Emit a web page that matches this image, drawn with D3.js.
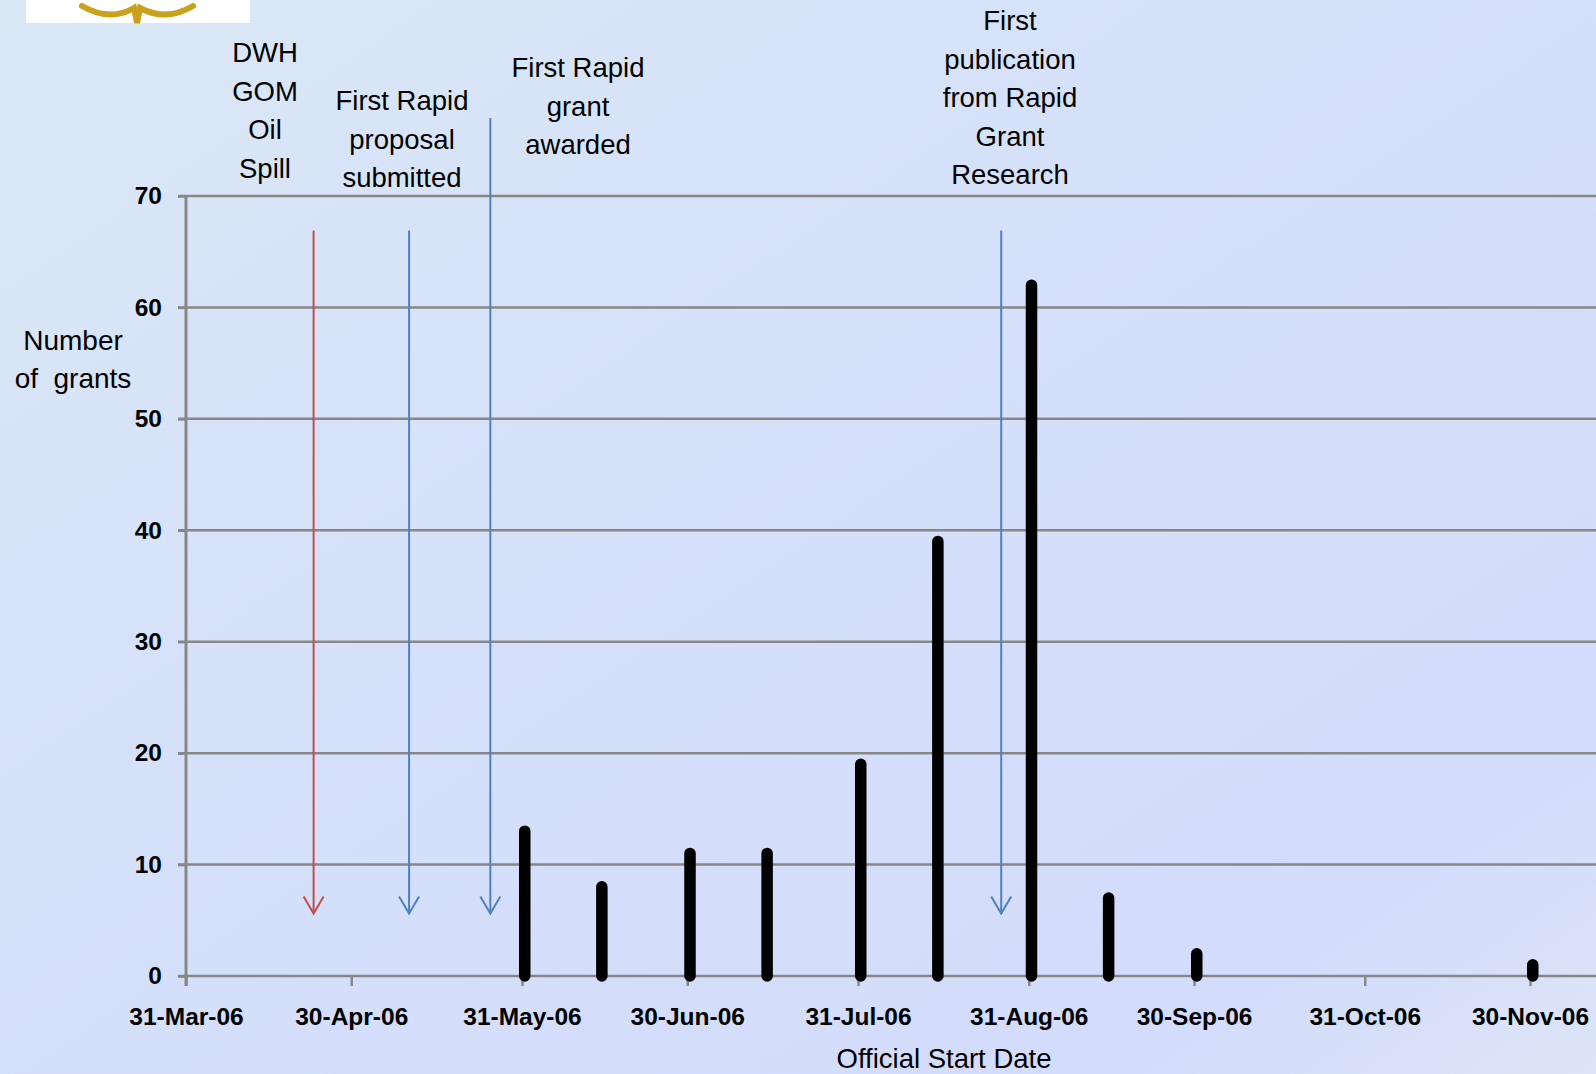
<!DOCTYPE html>
<html>
<head>
<meta charset="utf-8">
<script src="https://cdn.jsdelivr.net/npm/d3@7"></script>
<style>
  body { margin: 0; padding: 0; overflow: hidden; }
  text { font-family: "Liberation Sans", Arial, sans-serif; }
</style>
</head>
<body>
<div id="chart"></div>
<script>
// grants per official start date
var startDates = ["2006-05-31T12:00", "2006-06-14T12:00", "2006-06-30T12:00", "2006-07-14T12:00",
  "2006-07-31T12:00", "2006-08-14T12:00", "2006-08-31T12:00", "2006-09-14T12:00",
  "2006-09-30T12:00", "2006-11-30T12:00"];
var grantCounts = [13, 8, 11, 11, 19, 39, 62, 7, 2, 1];

var xTickDates = ["2006-03-31", "2006-04-30", "2006-05-31", "2006-06-30", "2006-07-31",
  "2006-08-31", "2006-09-30", "2006-10-31", "2006-11-30"];
var yTicks = [0, 10, 20, 30, 40, 50, 60, 70];

// event arrows
var arrowDates = ["2006-04-23T04:00", "2006-05-10T12:00", "2006-05-25T06:00", "2006-08-26T00:00"];
var arrowTops = [66.9, 66.9, 77, 66.9];
var arrowTip = 5.6;
var arrowColors = ["#C0504D", "#4F81BD", "#4F81BD", "#4F81BD"];

var noteLines = [
  ["DWH", "GOM", "Oil", "Spill"],
  ["First Rapid", "proposal", "submitted"],
  ["First Rapid", "grant", "awarded"],
  ["First", "publication", "from Rapid", "Grant", "Research"]
];

var svgWidth = 1596;
var svgHeight = 1074;
var parse = d3.isoParse;

var svg = d3.select("#chart")
  .append("svg")
  .attr("width", svgWidth)
  .attr("height", svgHeight);

var defs = svg.append("defs");
var grad = defs.append("linearGradient")
  .attr("id", "bg")
  .attr("x1", "0%").attr("y1", "0%")
  .attr("x2", "100%").attr("y2", "100%");
grad.append("stop").attr("offset", "0%").attr("stop-color", "#D9E8F5");
grad.append("stop").attr("offset", "45%").attr("stop-color", "#D5E0FA");
grad.append("stop").attr("offset", "85%").attr("stop-color", "#D3DCFB");
grad.append("stop").attr("offset", "100%").attr("stop-color", "#DCE5F6");

svg.append("rect")
  .attr("width", svgWidth)
  .attr("height", svgHeight)
  .attr("fill", "url(#bg)");

// piece of logo at the top left
svg.append("rect")
  .attr("x", 26).attr("y", 0)
  .attr("width", 224).attr("height", 23)
  .attr("fill", "#ffffff");
svg.append("path")
  .attr("d", "M82,6 Q110,22 134,8 L137,23 L140,8 Q166,22 193,6")
  .attr("fill", "none")
  .attr("stroke", "#C9A11C")
  .attr("stroke-width", 6)
  .attr("stroke-linecap", "round");

var x = d3.scaleTime()
  .domain([parse("2006-03-31"), parse("2006-11-30")])
  .range([186, 1530]);

var y = d3.scaleLinear()
  .domain([0, 70])
  .range([976, 196]);

var gridColor = "#878787";

// horizontal gridlines
svg.append("g")
  .selectAll("line")
  .data(yTicks.filter(d => d > 0))
  .enter()
  .append("line")
  .attr("x1", 178)
  .attr("x2", svgWidth)
  .attr("y1", d => y(d))
  .attr("y2", d => y(d))
  .attr("stroke", gridColor)
  .attr("stroke-width", 2.5);

// y axis
var leftAxis = d3.axisLeft(y)
  .tickValues(yTicks)
  .tickSize(8)
  .tickPadding(16)
  .tickFormat(d3.format("d"));

var yAxis = svg.append("g")
  .attr("transform", "translate(186,0)")
  .call(leftAxis);
yAxis.select(".domain").remove();
yAxis.selectAll("line").attr("stroke", gridColor).attr("stroke-width", 2.5);
yAxis.selectAll("text")
  .attr("font-size", 24.5)
  .attr("font-weight", "bold")
  .attr("fill", "#000")
  .style("font-family", "'Liberation Sans', Arial, sans-serif");

svg.append("line")
  .attr("x1", 186).attr("x2", 186)
  .attr("y1", y(70)).attr("y2", y(0) + 10)
  .attr("stroke", gridColor)
  .attr("stroke-width", 3);

// x axis
var bottomAxis = d3.axisBottom(x)
  .tickValues(xTickDates.map(parse))
  .tickSize(10)
  .tickPadding(22)
  .tickFormat(d3.timeFormat("%d-%b-%y"));

var xAxis = svg.append("g")
  .attr("transform", `translate(0, ${y(0)})`)
  .call(bottomAxis);
xAxis.select(".domain").remove();
xAxis.selectAll("line").attr("stroke", gridColor).attr("stroke-width", 2.5);
xAxis.selectAll("text")
  .attr("font-size", 24.5)
  .attr("font-weight", "bold")
  .attr("fill", "#000")
  .style("font-family", "'Liberation Sans', Arial, sans-serif");

svg.append("line")
  .attr("x1", 178).attr("x2", svgWidth)
  .attr("y1", y(0)).attr("y2", y(0))
  .attr("stroke", gridColor)
  .attr("stroke-width", 2.5);

// bars drawn as thick rounded lines
svg.append("g")
  .selectAll("line")
  .data(grantCounts)
  .enter()
  .append("line")
  .attr("x1", (d, i) => x(parse(startDates[i])))
  .attr("x2", (d, i) => x(parse(startDates[i])))
  .attr("y1", y(0))
  .attr("y2", d => y(d))
  .attr("stroke", "#000")
  .attr("stroke-width", 11.5)
  .attr("stroke-linecap", "round");

// arrows
var arrows = svg.append("g")
  .selectAll("g")
  .data(arrowDates)
  .enter()
  .append("g")
  .attr("stroke", (d, i) => arrowColors[i])
  .attr("stroke-width", 2)
  .attr("fill", "none");

arrows.append("line")
  .attr("x1", d => x(parse(d)))
  .attr("x2", d => x(parse(d)))
  .attr("y1", (d, i) => y(arrowTops[i]))
  .attr("y2", y(arrowTip));

arrows.append("polyline")
  .attr("points", d => {
    var ax = x(parse(d)), ay = y(arrowTip);
    return [[ax - 10, ay - 17], [ax, ay], [ax + 10, ay - 17]].join(" ");
  });

// annotation text
var notePos = [[265, 62], [402, 110], [578, 77], [1010, 30]];
noteLines.forEach(function(lines, i) {
  var t = svg.append("text")
    .attr("text-anchor", "middle")
    .attr("font-size", 27.5)
    .attr("fill", "#000");
  lines.forEach(function(line, j) {
    t.append("tspan")
      .attr("x", notePos[i][0])
      .attr("y", notePos[i][1] + j * 38.5)
      .text(line);
  });
});

// axis titles
var yTitle = svg.append("text")
  .attr("text-anchor", "middle")
  .attr("font-size", 28)
  .attr("fill", "#000");
yTitle.append("tspan").attr("x", 73).attr("y", 350).text("Number");
yTitle.append("tspan").attr("x", 73).attr("y", 388).attr("xml:space", "preserve").text("of  grants");

svg.append("text")
  .attr("x", 944)
  .attr("y", 1068)
  .attr("text-anchor", "middle")
  .attr("font-size", 27.5)
  .attr("fill", "#000")
  .text("Official Start Date");
</script>
</body>
</html>
